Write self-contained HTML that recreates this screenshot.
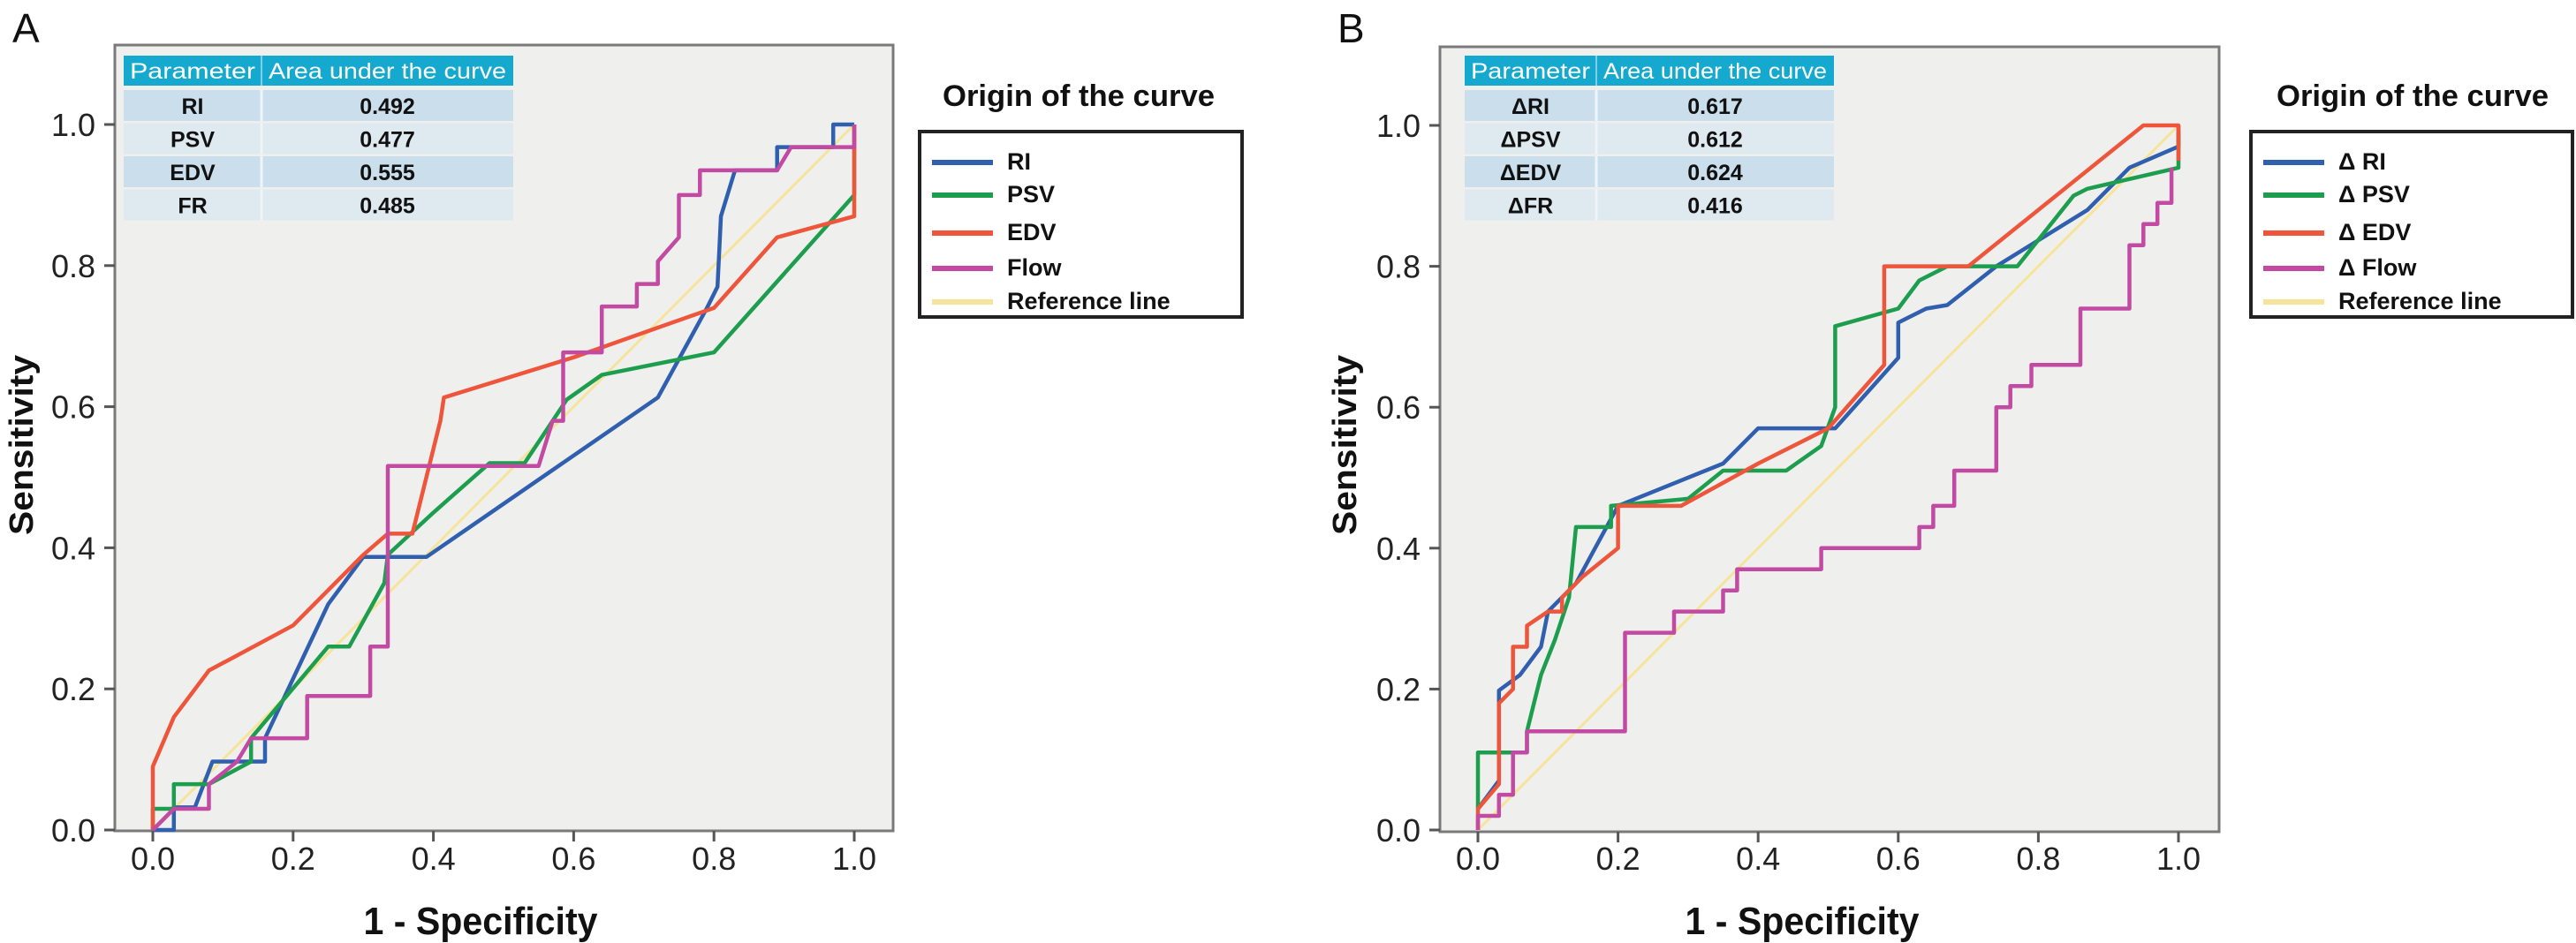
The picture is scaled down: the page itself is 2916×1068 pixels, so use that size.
<!DOCTYPE html>
<html><head><meta charset="utf-8"><style>
html,body{margin:0;padding:0;background:#fff;}
svg{display:block;font-family:"Liberation Sans",Arial,sans-serif;}
.tick{font-family:"Liberation Sans Narrow","Liberation Sans",sans-serif;font-size:36px;fill:#222;}
</style></head><body>
<svg id="chart" width="2916" height="1068" viewBox="0 0 2916 1068" xmlns="http://www.w3.org/2000/svg"></svg>
<script>
// ---- Panel A data ----
const tickValues = [0, 0.2, 0.4, 0.6, 0.8, 1.0];
const tickLabels = ["0.0", "0.2", "0.4", "0.6", "0.8", "1.0"];
const aNames = ["RI", "PSV", "EDV", "Flow"];
const aTableParams = ["RI", "PSV", "EDV", "FR"];
const aTableAuc = ["0.492", "0.477", "0.555", "0.485"];
const aRI = [[0,0],[0.03,0],[0.03,0.032],[0.06,0.032],[0.085,0.097],[0.16,0.097],[0.16,0.13],[0.25,0.32],[0.3,0.387],[0.39,0.387],[0.72,0.613],[0.79,0.74],[0.805,0.77],[0.81,0.87],[0.83,0.935],[0.89,0.935],[0.89,0.968],[0.97,0.968],[0.97,1],[1,1]];
const aPSV = [[0,0],[0,0.03],[0.03,0.03],[0.03,0.065],[0.08,0.065],[0.14,0.097],[0.14,0.13],[0.25,0.26],[0.28,0.26],[0.33,0.35],[0.335,0.39],[0.4,0.45],[0.48,0.52],[0.53,0.52],[0.59,0.61],[0.64,0.645],[0.8,0.677],[1,0.9],[1,1]];
const aEDV = [[0,0],[0,0.09],[0.03,0.16],[0.08,0.226],[0.2,0.29],[0.3,0.39],[0.335,0.42],[0.37,0.42],[0.41,0.58],[0.415,0.613],[0.6,0.67],[0.8,0.74],[0.89,0.84],[1,0.87],[1,1]];
const aFlow = [[0,0],[0.03,0.03],[0.08,0.03],[0.08,0.065],[0.12,0.097],[0.14,0.13],[0.22,0.13],[0.22,0.19],[0.31,0.19],[0.31,0.26],[0.335,0.26],[0.335,0.516],[0.55,0.516],[0.57,0.58],[0.585,0.58],[0.585,0.677],[0.64,0.677],[0.64,0.742],[0.69,0.742],[0.69,0.774],[0.72,0.774],[0.72,0.806],[0.75,0.84],[0.75,0.9],[0.78,0.9],[0.78,0.935],[0.89,0.935],[0.91,0.968],[1,0.968],[1,1]];
// ---- Panel B data ----
const bNames = ["\u0394 RI", "\u0394 PSV", "\u0394 EDV", "\u0394 Flow"];
const bTableParams = ["\u0394RI", "\u0394PSV", "\u0394EDV", "\u0394FR"];
const bTableAuc = ["0.617", "0.612", "0.624", "0.416"];
const bRI = [[0,0.03],[0.03,0.07],[0.03,0.198],[0.06,0.22],[0.09,0.26],[0.1,0.31],[0.14,0.35],[0.2,0.46],[0.35,0.52],[0.4,0.57],[0.51,0.57],[0.6,0.67],[0.6,0.72],[0.64,0.74],[0.67,0.745],[0.74,0.8],[0.87,0.88],[0.93,0.94],[1,0.97],[1,1]];
const bPSV = [[0,0.03],[0,0.11],[0.07,0.11],[0.07,0.14],[0.09,0.22],[0.11,0.27],[0.13,0.33],[0.14,0.43],[0.19,0.43],[0.19,0.46],[0.3,0.47],[0.35,0.51],[0.44,0.51],[0.49,0.545],[0.51,0.6],[0.51,0.715],[0.6,0.74],[0.63,0.78],[0.67,0.8],[0.77,0.8],[0.85,0.9],[0.87,0.91],[1,0.94],[1,0.99]];
const bEDV = [[0,0],[0,0.03],[0.03,0.065],[0.03,0.18],[0.05,0.2],[0.05,0.26],[0.07,0.26],[0.07,0.29],[0.1,0.31],[0.12,0.31],[0.12,0.33],[0.15,0.36],[0.2,0.4],[0.2,0.46],[0.29,0.46],[0.4,0.52],[0.5,0.57],[0.58,0.66],[0.58,0.8],[0.7,0.8],[0.95,1],[1,1],[1,0.95]];
const bFlow = [[0,0],[0,0.02],[0.03,0.02],[0.03,0.05],[0.05,0.05],[0.05,0.11],[0.07,0.11],[0.07,0.14],[0.21,0.14],[0.21,0.28],[0.28,0.28],[0.28,0.31],[0.35,0.31],[0.35,0.34],[0.37,0.34],[0.37,0.37],[0.49,0.37],[0.49,0.4],[0.63,0.4],[0.63,0.43],[0.65,0.43],[0.65,0.46],[0.68,0.46],[0.68,0.51],[0.74,0.51],[0.74,0.6],[0.76,0.6],[0.76,0.63],[0.79,0.63],[0.79,0.66],[0.86,0.66],[0.86,0.74],[0.93,0.74],[0.93,0.83],[0.95,0.83],[0.95,0.86],[0.97,0.86],[0.97,0.89],[0.99,0.89],[0.99,0.94]];
const refLine = [[0,0],[1,1]];

const colors = ["#2f5fae", "#1c9e4e", "#ee553b", "#c34aa2"];
const refColor = "#f6e49a";
const NS = "http://www.w3.org/2000/svg";
const svg = document.getElementById("chart");

function el(tag, attrs, parent, text) {
  const e = document.createElementNS(NS, tag);
  for (const k in attrs) e.setAttribute(k, attrs[k]);
  if (text !== undefined) e.textContent = text;
  (parent || svg).appendChild(e);
  return e;
}

function panel(cfg) {
  const g = el("g", {});
  
  
  const sx = v => cfg.x0 + v * (cfg.x1 - cfg.x0);
  const sy = v => cfg.y0 - v * (cfg.y0 - cfg.y1);
  const bg = el("rect", {x: cfg.fx0, y: cfg.fy0, width: cfg.fx1 - cfg.fx0, height: cfg.fy1 - cfg.fy0, fill: "#efefee", stroke: "#7a7a7a", "stroke-width": 3}, g);
  
  
  // panel letter
  const L = el("text", {x: cfg.letterX, y: 48, "font-size": 46, fill: "#111"}, g, cfg.letter);
  
  
  // ticks
  tickValues.forEach((v, i) => {
    const yt = el("line", {x1: cfg.fx0 - 12, x2: cfg.fx0, y1: sy(v), y2: sy(v), stroke: "#555", "stroke-width": 3}, g);
    
    
    const yl = el("text", {x: cfg.fx0 - 22, y: sy(v) + 13, "text-anchor": "end", class: "tick"}, g, tickLabels[i]);
    
    
    const xt = el("line", {x1: sx(v), x2: sx(v), y1: cfg.fy1, y2: cfg.fy1 + 12, stroke: "#555", "stroke-width": 3}, g);
    
    
    const xl = el("text", {x: sx(v), y: 985, "text-anchor": "middle", class: "tick"}, g, tickLabels[i]);
    
    
  });
  // table
  const tx0 = cfg.tx0, tx1 = cfg.tx1, td = cfg.td;
  const hdr = el("rect", {x: tx0, y: 63, width: tx1 - tx0, height: 34, fill: "#16a9cf"}, g);
  
  
  el("line", {x1: td, x2: td, y1: 63, y2: 97, stroke: "#7fd0e6", "stroke-width": 2}, g);
  const h1 = el("text", {x: (tx0 + td) / 2, y: 89, "text-anchor": "middle", "font-size": 25, fill: "#fff", textLength: td - tx0 - 14, lengthAdjust: "spacingAndGlyphs"}, g, "Parameter");
  
  
  const h2 = el("text", {x: (td + tx1) / 2, y: 89, "text-anchor": "middle", "font-size": 25, fill: "#fff", textLength: tx1 - td - 16, lengthAdjust: "spacingAndGlyphs"}, g, "Area under the curve");
  
  
  cfg.params.forEach((p, i) => {
    const ry = 102 + i * 37.5;
    const r = el("rect", {x: tx0, y: ry, width: tx1 - tx0, height: 35, fill: i % 2 === 0 ? "#cadfeb" : "#dfe9f0"}, g);
    
    
    el("line", {x1: td, x2: td, y1: ry, y2: ry + 35, stroke: "#eef4f8", "stroke-width": 3}, g);
    const c1 = el("text", {x: (tx0 + td) / 2, y: ry + 27, "text-anchor": "middle", "font-size": 25, "font-weight": "bold", fill: "#111"}, g, p);
    
    
    const c2 = el("text", {x: (td + tx1) / 2, y: ry + 27, "text-anchor": "middle", "font-size": 25, "font-weight": "bold", fill: "#111"}, g, cfg.auc[i]);
    
    
  });
  // reference line
  const ref = el("polyline", {points: refLine.map(p => sx(p[0]) + "," + sy(p[1])).join(" "), fill: "none", stroke: refColor, "stroke-width": 3}, g);
  
  
  // curves
  cfg.series.forEach((s, i) => {
    const pl = el("polyline", {points: s.map(p => sx(p[0]).toFixed(1) + "," + sy(p[1]).toFixed(1)).join(" "), fill: "none", stroke: colors[i], "stroke-width": 4.5, "stroke-linejoin": "round"}, g);
    
    
  });
  // axis titles
  const yT = el("text", {transform: "translate(" + cfg.sensX + ",504) rotate(-90)", "text-anchor": "middle", "font-size": 38, "font-weight": "bold", fill: "#111", textLength: 204, lengthAdjust: "spacingAndGlyphs"}, g, "Sensitivity");
  
  
  const xT = el("text", {x: cfg.specX, y: 1058, "text-anchor": "middle", "font-size": 44, "font-weight": "bold", fill: "#111", textLength: 265, lengthAdjust: "spacingAndGlyphs"}, g, "1 - Specificity");
  
  
  // legend
  const lt = el("text", {x: cfg.legTitleX, y: 120, "font-size": 34, "font-weight": "bold", fill: "#111", textLength: 308, lengthAdjust: "spacingAndGlyphs"}, g, "Origin of the curve");
  
  
  const lb = el("rect", {x: cfg.legX0, y: 149, width: cfg.legX1 - cfg.legX0, height: 210, fill: "#fff", stroke: "#222", "stroke-width": 4}, g);
  
  
  const ly = [182, 219, 262, 302, 340];
  const names = cfg.names.concat(["Reference line"]);
  const cols = colors.concat([refColor]);
  names.forEach((n, i) => {
    const ll = el("line", {x1: cfg.legX0 + 14, x2: cfg.legX0 + 83, y1: ly[i] + 2, y2: ly[i] + 2, stroke: cols[i], "stroke-width": 6}, g);
    
    
    const lx = el("text", {x: cfg.legX0 + 99, y: ly[i] + 10, "font-size": 27, "font-weight": "bold", fill: "#111"}, g, n);
    
    
  });
}

panel({id: "a", letter: "A", letterX: 14, x0: 173, x1: 967, y0: 940, y1: 141, fx0: 130, fx1: 1011, fy0: 51, fy1: 941,
  tx0: 140, tx1: 581, td: 296, params: aTableParams, auc: aTableAuc, series: [aRI, aPSV, aEDV, aFlow], slug: ["ri","psv","edv","flow"],
  sensX: 37, specX: 544, legTitleX: 1067, legX0: 1041, legX1: 1406, names: aNames});
panel({id: "b", letter: "B", letterX: 1514, x0: 1673, x1: 2466, y0: 940, y1: 142, fx0: 1630, fx1: 2512, fy0: 53, fy1: 942,
  tx0: 1658, tx1: 2076, td: 1807, params: bTableParams, auc: bTableAuc, series: [bRI, bPSV, bEDV, bFlow], slug: ["delta-ri","delta-psv","delta-edv","delta-flow"],
  sensX: 1535, specX: 2040, legTitleX: 2577, legX0: 2548, legX1: 2912, names: bNames});
</script>
</body></html>
